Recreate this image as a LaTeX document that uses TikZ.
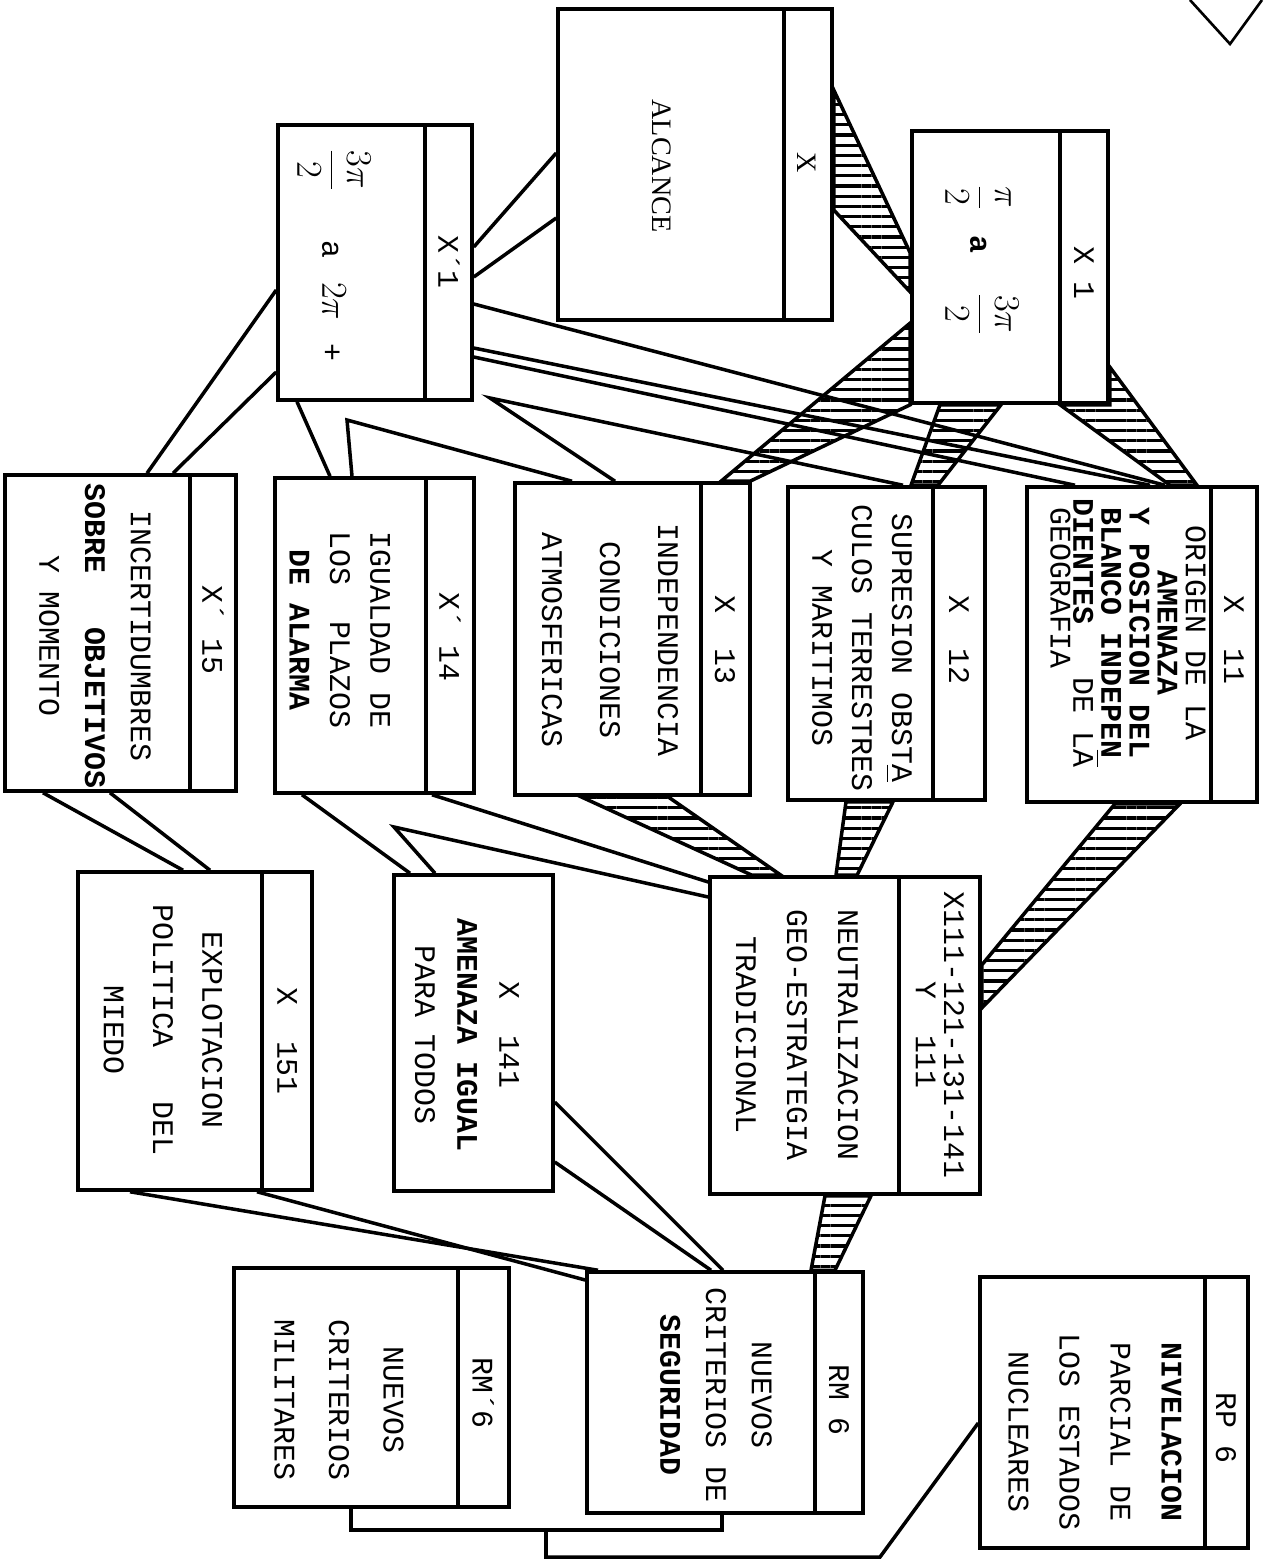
\documentclass[tikz,border=0pt]{standalone}
\usepackage{amsmath}
\usepackage{fontspec}
\setmonofont{Liberation Mono}
\newfontfamily\alcfont{Liberation Serif}
\usetikzlibrary{fit,patterns.meta}
\tikzset{
  box/.style={draw,line width=2pt,inner sep=0pt},
  link/.style={line width=2pt},
  band/.style={draw,line width=2pt,pattern={Lines[angle=0,distance=5.8pt,line width=1.8pt]}},
  txt/.style={rotate=-90,align=center,inner sep=0pt,font=\fontsize{17}{#1}\selectfont\ttfamily},
  txt/.default=20pt
}

\begin{document}
\begin{tikzpicture}[x=0.2mm,y=-0.2mm]
  \fill[white] (0,0) rectangle (1270,1562);
  \useasboundingbox (0,0) rectangle (1270,1562);

  \node[box,fit={(558,9) (832,320)}] (xa) {};
  \node[txt] (xah) at (807,163) {\alcfont\fontsize{16}{18}\selectfont X};
  \node[txt] (xat) at (662,166) {\alcfont\fontsize{16}{18}\selectfont ALCANCE};

  \node[box,fit={(278,125) (472,400)}] (xp1) {};
  \node[txt] (xp1h) at (449,262) {X´1};
  \node[txt] (xp1t) at (334,255) {\fontsize{22}{26}\selectfont$\dfrac{3\pi}{2}$\hspace{10mm}{\fontsize{17}{20}\selectfont a} $2\pi$ {\fontsize{17}{20}\selectfont +}};

  \node[box,fit={(912,131) (1108,403)}] (x1) {};
  \node[txt] (x1h) at (1084,273) {X 1};
  \node[txt] (x1t) at (982,260) {\fontsize{22}{26}\selectfont$\dfrac{\pi}{2}$\hspace{5mm}{\fontsize{17}{20}\selectfont\bfseries a}\hspace{8mm}$\dfrac{3\pi}{2}$};

  \node[box,fit={(1027,487) (1257,802)}] (x11) {};
  \node[txt] (x11h) at (1234,640) {X~~11};
  \node[txt=16pt] (x11t) at (1128,633) {ORIGEN DE LA\\\textbf{AMENAZA}\\\textbf{Y POSICION DEL}\\\textbf{BLANCO INDEPEN}\\\textbf{DIENTES}~~~DE L$\overline{\mbox{A}}$\\[-3pt]GEOGRAFIA\phantom{XXXXX}};

  \node[box,fit={(788,487) (985,800)}] (x12) {};
  \node[txt] (x12h) at (959,640) {X~~12};
  \node[txt=22.7pt] (x12t) at (862,648) {SUPRESION OBST\underline{A}\\CULOS TERRESTRES\\Y MARITIMOS};

  \node[box,fit={(515,483) (750,795)}] (x13) {};
  \node[txt] (x13h) at (725,640) {X~~13};
  \node[txt=33pt] (x13t) at (610,640) {INDEPENDENCIA\\CONDICIONES\\ATMOSFERICAS};

  \node[box,fit={(275,478) (474,793)}] (xp14) {};
  \node[txt] (xp14h) at (450,637) {X´~14};
  \node[txt=23pt] (xp14t) at (340,630) {IGUALDAD DE\\LOS~~PLAZOS\\\textbf{DE ALARMA}};

  \node[box,fit={(5,475) (236,791)}] (xp15) {};
  \node[txt] (xp15h) at (213,630) {X´~15};
  \node[txt=26pt] (xp15t) at (95,636) {INCERTIDUMBRES\\\textbf{SOBRE~~~OBJETIVOS}\\Y MOMENTO};

  \node[box,fit={(710,877) (980,1194)}] (x111) {};
  \node[txt=16pt] (x111h) at (940,1035) {X111-121-131-141\\Y~~111};
  \node[txt=29pt] (x111t) at (797,1035) {NEUTRALIZACION\\GEO-ESTRATEGIA\\TRADICIONAL};

  \node[box,fit={(394,875) (553,1191)}] (x141) {};
  \node[txt=24pt] (x141t) at (467,1035) {X~~141\\\textbf{AMENAZA IGUAL}\\PARA TODOS};

  \node[box,fit={(78,872) (312,1190)}] (x151) {};
  \node[txt] (x151h) at (287,1041) {X~~151};
  \node[txt=28pt] (x151t) at (163,1030) {EXPLOTACION\\POLITICA~~~DEL\\MIEDO};

  \node[box,fit={(587,1272) (863,1513)}] (rm6) {};
  \node[txt] (rm6h) at (839,1400) {RM 6};
  \node[txt=26pt] (rm6t) at (716,1395) {NUEVOS\\CRITERIOS DE\\\textbf{SEGURIDAD}};

  \node[box,fit={(234,1268) (509,1507)}] (rmp6) {};
  \node[txt] (rmp6h) at (483,1393) {RM´6};
  \node[txt=31pt] (rmp6t) at (339,1400) {NUEVOS\\CRITERIOS\\MILITARES};

  \node[box,fit={(980,1277) (1248,1548)}] (rp6) {};
  \node[txt] (rp6h) at (1226,1428) {RP 6};
  \node[txt=29pt] (rp6t) at (1095,1432) {\textbf{NIVELACION}\\PARCIAL DE\\LOS ESTADOS\\NUCLEARES};

  \foreach \b/\d in {xa/784,xp1/425,x1/1060,x11/1211,x12/933,x13/701,xp14/426,xp15/190,x111/899,x151/262,rm6/815,rmp6/458,rp6/1205}
    \draw[link] (\b.north -| \d,0) -- (\b.south -| \d,0);

  \coordinate (v1) at (490,398);
  \coordinate (v2) at (347,420);
  \coordinate (v3) at (394,827);
  \coordinate (b1) at (351,1530);
  \coordinate (b2) at (722,1530);
  \coordinate (b3) at (546,1530);
  \coordinate (b4) at (546,1557);
  \coordinate (b5) at (880,1557);

  \draw[link] (xp1.east |- 0,247) -- (xa.west |- 0,153);
  \draw[link] (xp1.east |- 0,277) -- (xa.west |- 0,218);
  \draw[band] (xa.east |- 0,90) -- (x1.west |- 0,253) -- (x1.west |- 0,292) -- (xa.east |- 0,210) -- cycle;

  \draw[link] (xp1.east |- 0,304) -- (x11.north -| 1165,0);
  \draw[link] (xp1.east |- 0,348) -- (x11.north -| 1150,0);
  \draw[link] (xp1.east |- 0,357) -- (x11.north -| 1075,0);
  \draw[link] (x13.north -| 615,0) -- (v1) -- (x12.north -| 903,0);
  \draw[link] (xp14.north -| 352,0) -- (v2) -- (x13.north -| 572,0);
  \draw[link] (xp1.south -| 297,0) -- (xp14.north -| 330,0);
  \draw[link] (xp1.west |- 0,290) -- (xp15.north -| 147,0);
  \draw[link] (xp1.west |- 0,372) -- (xp15.north -| 173,0);

  \draw[band] (x1.west |- 0,323) -- (x13.north -| 721,0) -- (x13.north -| 750,0) -- (x1.south west) -- cycle;
  \draw[band] (x1.south -| 940,0) -- (x12.north -| 911,0) -- (x12.north -| 938,0) -- (x1.south -| 1001,0) -- cycle;
  \draw[band] (x1.east |- 0,367) -- (x11.north -| 1197,0) -- (x11.north -| 1170,0) -- (x1.south -| 1060,0) -- (x1.south east) -- cycle;

  \draw[link] (xp15.south -| 43,0) -- (x151.north -| 183,0);
  \draw[link] (xp15.south -| 110,0) -- (x151.north -| 210,0);
  \draw[link] (xp14.south -| 302,0) -- (x141.north -| 410,0);
  \draw[link] (x141.north -| 435,0) -- (v3) -- (x111.west |- 0,897);
  \draw[link] (xp14.south -| 432,0) -- (x111.west |- 0,882);

  \draw[band] (x13.south -| 581,0) -- (x111.north -| 752,0) -- (x111.north -| 781,0) -- (x13.south -| 668,0) -- cycle;
  \draw[band] (x12.south -| 846,0) -- (x111.north -| 836,0) -- (x111.north -| 857,0) -- (x12.south -| 893,0) -- cycle;
  \draw[band] (x11.south -| 1115,0) -- (x111.east |- 0,965) -- (x111.east |- 0,1008) -- (x11.south -| 1180,0) -- cycle;

  \draw[link] (x141.east |- 0,1102) -- (rm6.north -| 723,0);
  \draw[link] (x141.east |- 0,1162) -- (rm6.north -| 711,0);
  \draw[link] (x151.south -| 257,0) -- (rm6.west |- 0,1280);
  \draw[link] (x151.south -| 130,0) -- (rm6.north -| 598,0);
  \draw[band] (x111.south -| 825,0) -- (rm6.north -| 811,0) -- (rm6.north -| 835,0) -- (x111.south -| 871,0) -- cycle;

  \draw[link] (rmp6.south -| b1) -- (b1) -- (b2) -- (rm6.south -| b2);
  \draw[link] (b3) -- (b4) -- (b5) -- (rp6.west |- 0,1423);

  \draw[line width=1.5pt] (1190,0) -- (1230,44) -- (1262,0);
\end{tikzpicture}
\end{document}
